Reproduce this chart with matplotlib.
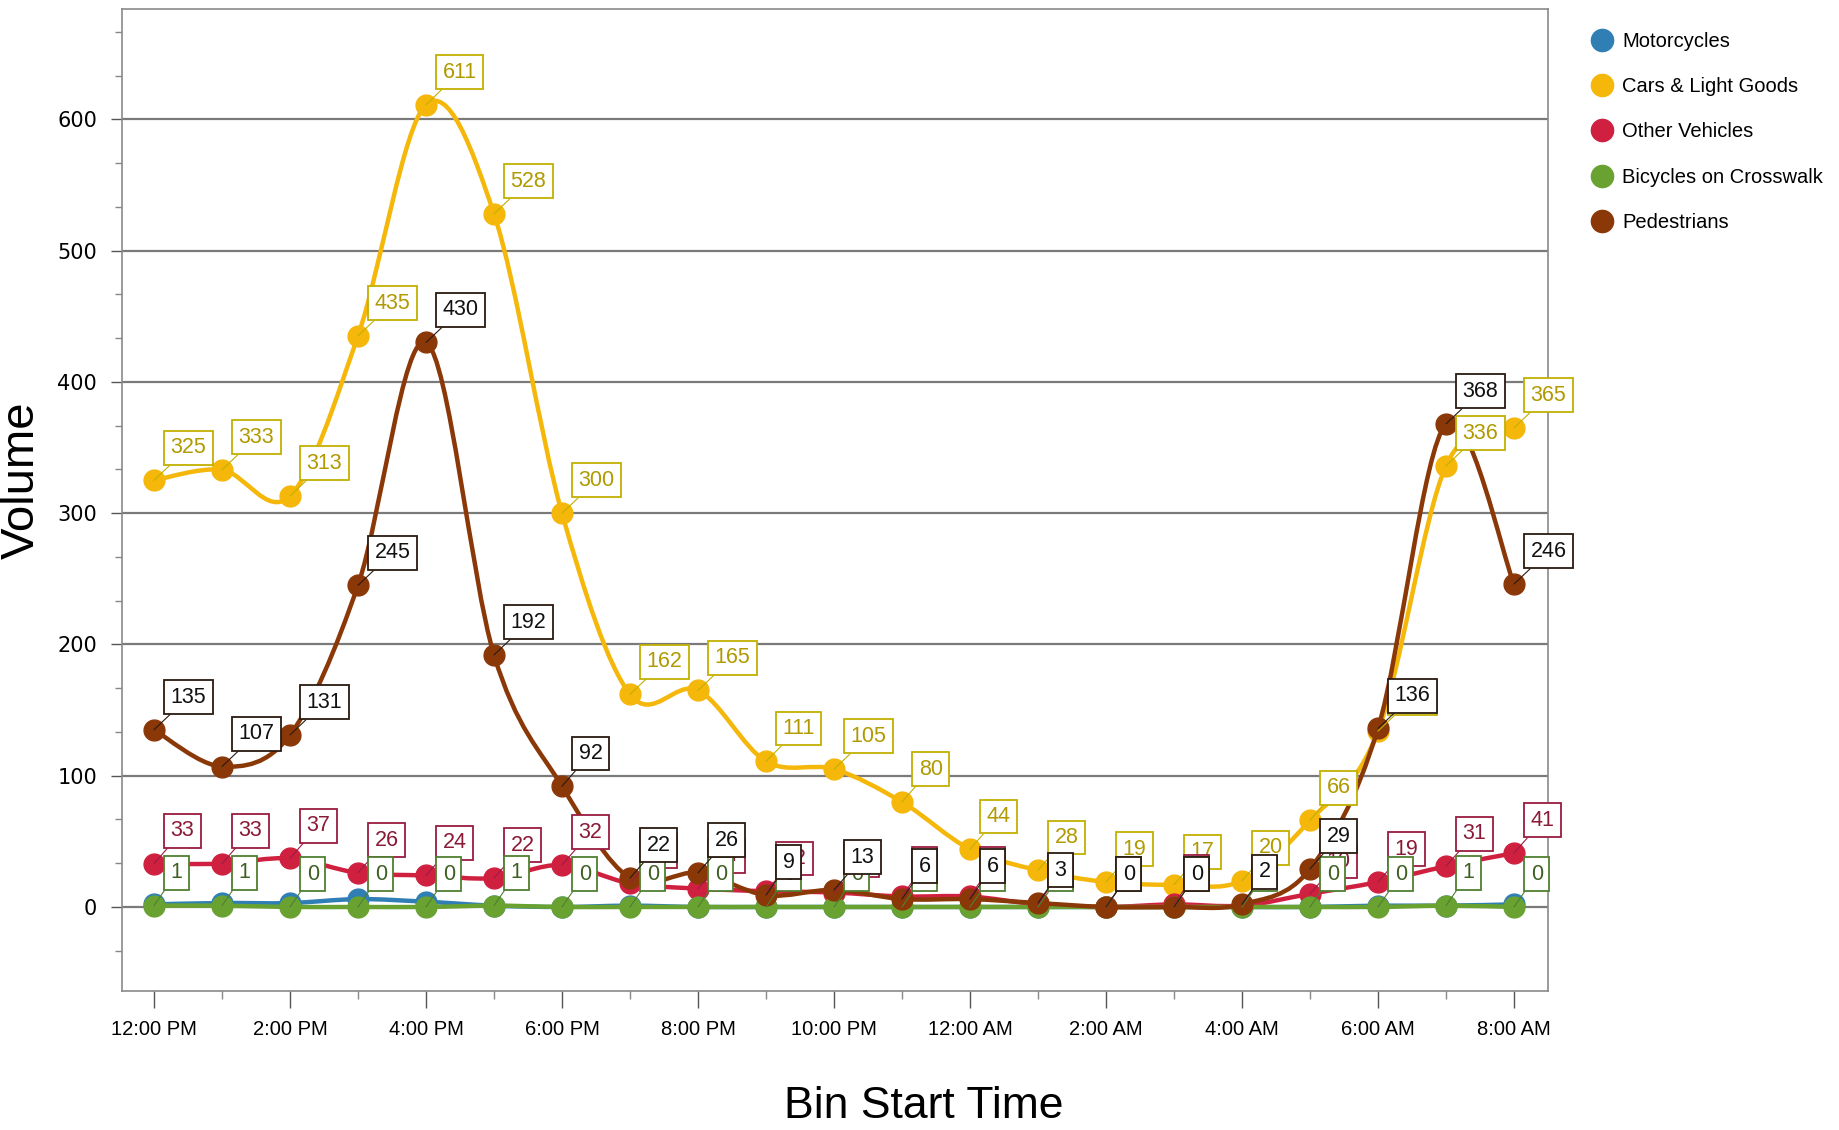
import numpy as np
import matplotlib.pyplot as plt
from matplotlib.path import Path
from matplotlib.patches import PathPatch
from matplotlib.lines import Line2D
from matplotlib.ticker import MultipleLocator, FixedLocator

plt.rcParams['font.family'] = ['Liberation Sans', 'DejaVu Sans']

# hourly bins
bins = ['12:00 PM', '1:00 PM', '2:00 PM', '3:00 PM', '4:00 PM', '5:00 PM', '6:00 PM',
        '7:00 PM', '8:00 PM', '9:00 PM', '10:00 PM', '11:00 PM', '12:00 AM', '1:00 AM',
        '2:00 AM', '3:00 AM', '4:00 AM', '5:00 AM', '6:00 AM', '7:00 AM', '8:00 AM']

motorcycles = [2, 3, 3, 6, 4, 1, 0, 1, 0, 0, 0, 0, 0, 0, 0, 0, 0, 0, 1, 1, 2]
cars = [325, 333, 313, 435, 611, 528, 300, 162, 165, 111, 105, 80, 44, 28, 19, 17, 20, 66, 134, 336, 365]
other = [33, 33, 37, 26, 24, 22, 32, 18, 14, 12, 11, 8, 8, 2, 0, 2, 1, 10, 19, 31, 41]
bikes = [1, 1, 0, 0, 0, 1, 0, 0, 0, 0, 0, 0, 0, 0, 0, 0, 0, 0, 0, 1, 0]
peds = [135, 107, 131, 245, 430, 192, 92, 22, 26, 9, 13, 6, 6, 3, 0, 0, 2, 29, 136, 368, 246]

# name, values, line colour, label text colour, label box colour, show labels
series = [
    ('Motorcycles', motorcycles, '#2f7fb5', '#1f5f8a', '#2f7fb5', False),
    ('Cars & Light Goods', cars, '#f4b70a', '#b09a00', '#c2b000', True),
    ('Other Vehicles', other, '#d02040', '#8a1a36', '#9a1c40', True),
    ('Bicycles on Crosswalk', bikes, '#6aa232', '#3f5f22', '#4f7f30', True),
    ('Pedestrians', peds, '#8b3808', '#111111', '#2a1a10', True),
]


def smooth_path(x, y):
    # cardinal spline through the points, as cubic bezier segments
    pts = np.column_stack([x, y]).astype(float)
    n = len(pts)
    verts = [pts[0]]
    codes = [Path.MOVETO]
    for i in range(n - 1):
        p0 = pts[i - 1] if i > 0 else pts[i]
        p1 = pts[i]
        p2 = pts[i + 1]
        p3 = pts[i + 2] if i + 2 < n else pts[i + 1]
        verts += [p1 + (p2 - p0) / 6, p2 - (p3 - p1) / 6, p2]
        codes += [Path.CURVE4] * 3
    return Path(verts, codes)


fig = plt.figure(figsize=(18.39, 11.30), dpi=100)
ax = fig.add_axes([122 / 1839, 1 - 991 / 1130, 1426 / 1839, 982 / 1130])

x = np.arange(len(bins))
handles = []
for k, (name, vals, col, tcol, ecol, show) in enumerate(series):
    ax.add_patch(PathPatch(smooth_path(x, vals), fill=False, edgecolor=col,
                           lw=3.2, capstyle='round', zorder=3 + k))
    ax.plot(x, vals, 'o', ms=15, color=col, mec=col, zorder=3 + k)
    handles.append(Line2D([], [], marker='o', ls='none', ms=16, color=col))
    if not show:
        continue
    for xi, v in zip(x, vals):
        ax.annotate(str(v), (xi, v), xytext=(12, 16), textcoords='offset points',
                    ha='left', va='bottom', fontsize=15.5, color=tcol,
                    bbox=dict(boxstyle='square,pad=0.3', fc='white', ec=ecol, lw=1.3),
                    arrowprops=dict(arrowstyle='-', color=ecol, lw=0.8,
                                    shrinkA=0, shrinkB=0),
                    zorder=20 + k)

ax.set_xlim(-0.47, 20.5)
ax.set_ylim(-64, 684)

ax.xaxis.set_major_locator(FixedLocator(x[::2]))
ax.set_xticklabels(bins[::2])
ax.xaxis.set_minor_locator(MultipleLocator(1))
ax.yaxis.set_major_locator(FixedLocator([0, 100, 200, 300, 400, 500, 600]))
ax.yaxis.set_minor_locator(MultipleLocator(100 / 3))

ax.tick_params(axis='x', which='major', length=12, width=1, color='#555555',
               labelsize=14.5, pad=9)
ax.tick_params(axis='x', which='minor', length=6, width=1, color='#888888')
ax.tick_params(axis='y', which='major', length=8, width=1, color='#555555', pad=10)
ax.tick_params(axis='y', which='minor', length=5, width=1, color='#888888')
for lab in ax.get_yticklabels():
    lab.set_fontfamily('DejaVu Sans')
    lab.set_fontsize(15)

ax.grid(axis='y', which='major', color='#7a7a7a', lw=1.6)
ax.set_axisbelow(True)
for s in ax.spines.values():
    s.set_color('#8a8a8a')
    s.set_linewidth(1.2)

ax.set_ylabel('Volume', fontsize=34)
ax.yaxis.set_label_coords(-0.055, 0.52)
ax.set_xlabel('Bin Start Time', fontsize=32)
ax.xaxis.set_label_coords(0.5625, -0.097)

fig.legend(handles, [s[0] for s in series], loc='upper left',
           bbox_to_anchor=(1576 / 1839, 1 - 14 / 1130), frameon=False,
           fontsize=14.5, handlelength=0.8, handletextpad=0.6, labelspacing=1.3)

plt.savefig('out.png', dpi=100)
